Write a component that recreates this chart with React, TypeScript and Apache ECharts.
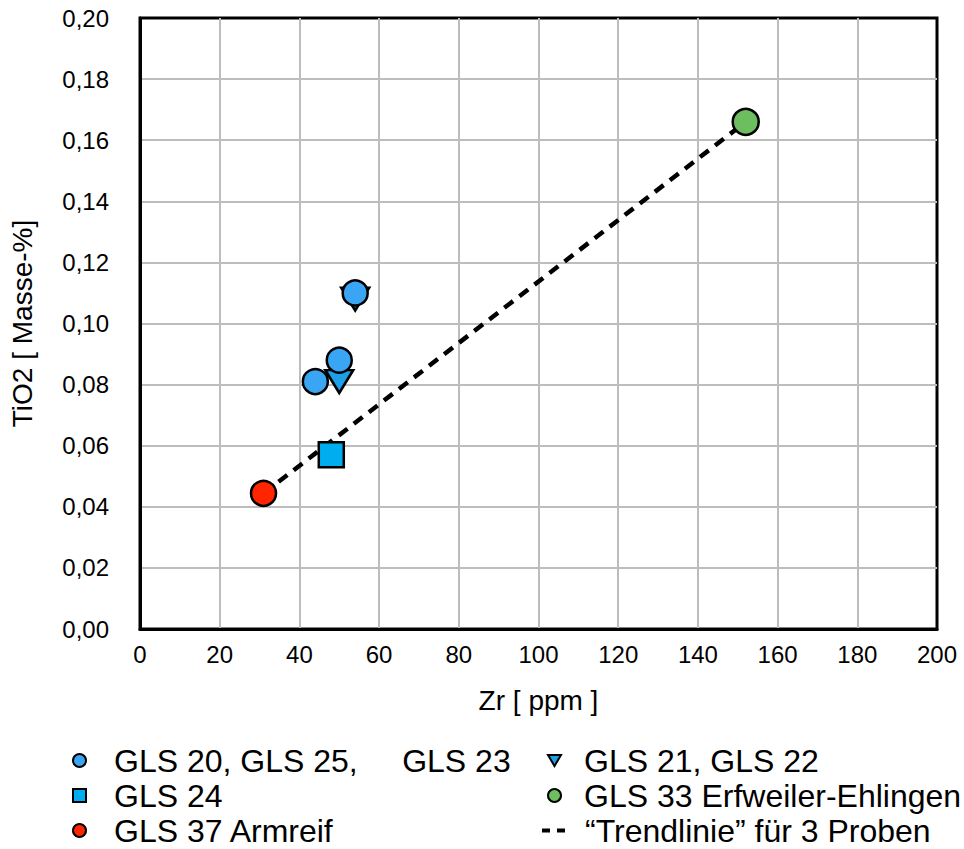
import React, { useEffect, useRef } from "react";
import * as echarts from "echarts";

const circleNames = ["GLS 20", "GLS 25", "GLS 23"];
const circleX = [54, 50, 44];
const circleY = [0.11, 0.088, 0.081];

const triangleNames = ["GLS 21", "GLS 22"];
const triangleX = [54, 50];
const triangleY = [0.108, 0.081];

const squareX = [48];
const squareY = [0.057];

const armreifX = [31];
const armreifY = [0.0444];

const erfweilerX = [152];
const erfweilerY = [0.166];

const trendX = [31, 152];
const trendY = [0.0444, 0.166];

const xTicks = [0, 20, 40, 60, 80, 100, 120, 140, 160, 180, 200];
const yTicks = [0, 0.02, 0.04, 0.06, 0.08, 0.1, 0.12, 0.14, 0.16, 0.18, 0.2];

const S_CIRCLE = "GLS 20, GLS 25,     GLS 23";
const S_TRI = "GLS 21, GLS 22";
const S_SQ = "GLS 24";
const S_GREEN = "GLS 33 Erfweiler-Ehlingen";
const S_RED = "GLS 37 Armreif";
const S_TREND = "\u201CTrendlinie\u201D für 3 Proben";

const TRI_PATH = "path://M0,0 L28,0 L14,23 Z";
const TRI_ICON = "path://M0,1 L13,1 L6.5,12 Z";
const SQ_ICON = "path://M0,0 L13,0 L13,13 L0,13 Z";
const DASH_PATH = "path://M0,0 L8,0 L8,4 L0,4 Z M15,0 L23,0 L23,4 L15,4 Z";

const FONT = "'Liberation Sans', Arial, Helvetica, sans-serif";

const pts = (xs: number[], ys: number[]) => xs.map((x, i) => [x, ys[i]]);

export default function App() {
  const ref = useRef<HTMLDivElement>(null);
  useEffect(() => {
    if (!ref.current) return;
    const chart = echarts.init(ref.current, undefined, { renderer: "svg" });
    const legendText = { fontFamily: FONT, fontSize: 32, color: "#000", lineHeight: 35 };
    chart.setOption({
      animation: false,
      backgroundColor: "#fff",
      grid: {
        left: 139,
        right: 27,
        top: 18,
        bottom: 220,
        show: true,
        borderColor: "#000",
        borderWidth: 3,
        backgroundColor: "transparent",
      },
      xAxis: {
        type: "value",
        min: xTicks[0],
        max: xTicks[xTicks.length - 1],
        interval: 20,
        name: "Zr [ ppm ]",
        nameLocation: "middle",
        nameGap: 57,
        nameTextStyle: { fontFamily: FONT, fontSize: 28, color: "#000" },
        axisLine: { lineStyle: { color: "#000", width: 3 } },
        axisTick: { show: false },
        axisLabel: { fontFamily: FONT, fontSize: 24, color: "#000", margin: 13 },
        splitLine: { show: true, showMinLine: false, showMaxLine: false, lineStyle: { color: "#BDBDBD", width: 2 } },
      },
      yAxis: {
        type: "value",
        min: yTicks[0],
        max: yTicks[yTicks.length - 1],
        interval: 0.02,
        name: "TiO2 [ Masse-%]",
        nameLocation: "middle",
        nameGap: 104,
        nameTextStyle: { fontFamily: FONT, fontSize: 28, color: "#000" },
        axisLine: { lineStyle: { color: "#000", width: 3 } },
        axisTick: { show: false },
        axisLabel: {
          fontFamily: FONT,
          fontSize: 24,
          color: "#000",
          margin: 31,
          formatter: (v: number) => v.toFixed(2).replace(".", ","),
        },
        splitLine: { show: true, showMinLine: false, showMaxLine: false, lineStyle: { color: "#BDBDBD", width: 2 } },
      },
      legend: [
        {
          orient: "vertical",
          left: 72,
          top: 743,
          padding: 0,
          itemGap: 0,
          itemWidth: 13,
          itemHeight: 13,
          itemStyle: { borderWidth: 2, borderColor: "#000" },
          textStyle: { ...legendText, padding: [0, 0, 0, 23] },
          data: [
            { name: S_CIRCLE, icon: "circle" },
            { name: S_SQ, icon: SQ_ICON },
            { name: S_RED, icon: "circle" },
          ],
        },
        {
          orient: "vertical",
          left: 547,
          top: 743,
          padding: 0,
          itemGap: 0,
          itemWidth: 13,
          itemHeight: 13,
          itemStyle: { borderWidth: 2, borderColor: "#000" },
          textStyle: { ...legendText, padding: [0, 0, 0, 18] },
          data: [
            { name: S_TRI, icon: TRI_ICON },
            { name: S_GREEN, icon: "circle" },
          ],
        },
        {
          orient: "vertical",
          left: 542,
          top: 813,
          padding: 0,
          itemGap: 0,
          itemWidth: 23,
          itemHeight: 4,
          itemStyle: { borderWidth: 0 },
          textStyle: { ...legendText, padding: [0, 0, 0, 15] },
          data: [{ name: S_TREND, icon: DASH_PATH }],
        },
      ],
      series: [
        {
          name: S_TREND,
          type: "line",
          data: pts(trendX, trendY),
          symbol: "none",
          itemStyle: { color: "#000" },
          lineStyle: { color: "#000", width: 4.5, type: [11, 8] },
          z: 1,
        },
        {
          name: S_TRI,
          type: "scatter",
          data: pts(triangleX, triangleY),
          symbol: TRI_PATH,
          symbolSize: [28, 23],
          itemStyle: { color: "#1EA0E8", borderColor: "#000", borderWidth: 2.5, opacity: 1 },
          z: 2,
        },
        {
          name: S_CIRCLE,
          type: "scatter",
          data: pts(circleX, circleY),
          symbol: "circle",
          symbolSize: 25,
          itemStyle: { color: "#3AA5F3", borderColor: "#000", borderWidth: 2.5, opacity: 1 },
          z: 3,
        },
        {
          name: S_SQ,
          type: "scatter",
          data: pts(squareX, squareY),
          symbol: "rect",
          symbolSize: 25,
          itemStyle: { color: "#00AEEF", borderColor: "#000", borderWidth: 2.5, opacity: 1 },
          z: 3,
        },
        {
          name: S_RED,
          type: "scatter",
          data: pts(armreifX, armreifY),
          symbol: "circle",
          symbolSize: 25,
          itemStyle: { color: "#FF2500", borderColor: "#000", borderWidth: 2.5, opacity: 1 },
          z: 3,
        },
        {
          name: S_GREEN,
          type: "scatter",
          data: pts(erfweilerX, erfweilerY),
          symbol: "circle",
          symbolSize: 26,
          itemStyle: { color: "#6CBE5F", borderColor: "#000", borderWidth: 2.5, opacity: 1 },
          z: 3,
        },
      ],
    });
    return () => chart.dispose();
  }, []);
  return <div ref={ref} style={{ width: 964, height: 849, position: "absolute", left: 0, top: 0 }} />;
}
